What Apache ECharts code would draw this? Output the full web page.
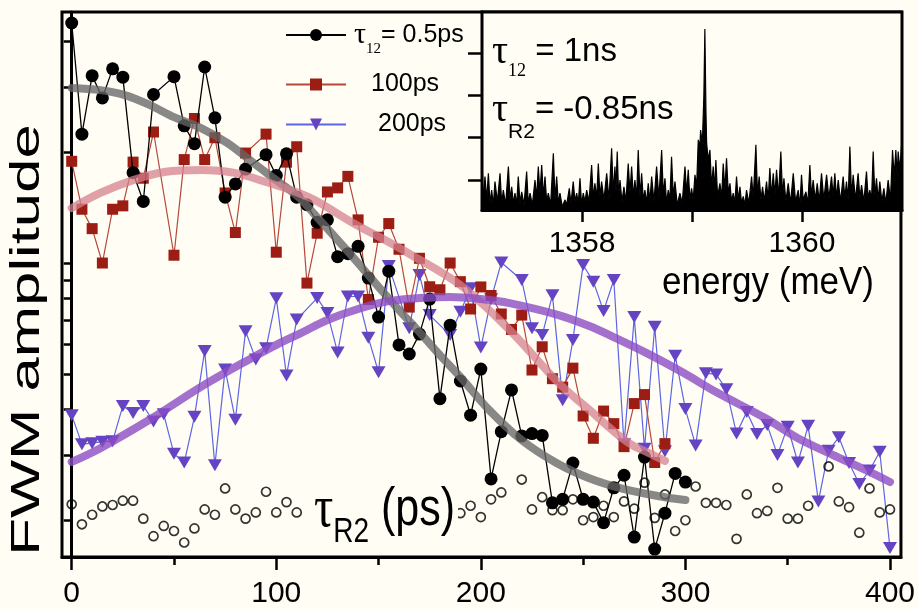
<!DOCTYPE html>
<html><head><meta charset="utf-8">
<script src="https://cdn.jsdelivr.net/npm/echarts@6/dist/echarts.min.js"></script>
<style>html,body{margin:0;padding:0;background:#fffdf4;}#c{width:918px;height:609px;}</style>
</head><body><div id="c"></div>
<script>
// ---- main panel data (x: tau_R2 in ps, y: FWM amplitude, log scale) ----
const blackX = [0,5,10,15,20,25,30,35,40,50,55,60,65,70,75,80,85,95,100,105,110,115,120,125,130,135,140,145,150,155,160,165,170,175,180,185,190,195,200,205,210,215,220,225,230,235,240,245,250,255,260,265,270,275,280,285,290,295,300];
const blackY = [44.9,22.4,32.3,28.1,33.7,32.0,17.6,14.7,28.7,32.1,23.6,21.1,34.1,24.8,15.1,16.4,18.0,19.7,17.3,19.8,15.1,14.4,12.9,13.1,10.4,10.6,11.1,9.1,7.13,9.5,5.99,5.66,6.41,7.98,4.28,6.78,4.78,3.86,5.15,2.59,3.48,4.52,3.39,3.44,3.40,2.23,2.28,2.86,2.28,2.24,1.97,2.45,2.65,1.80,2.97,1.67,2.09,2.68,2.54];

const redX = [0,5,10,15,20,25,30,35,40,50,55,60,65,70,75,80,85,95,100,105,110,115,120,125,130,135,140,145,150,155,160,165,170,175,180,185,190,195,200,205,210,215,220,225,230,235,240,245,250,255,260,265,270,275,280,285,290];
const redY = [18.9,14.0,12.4,10.0,14.0,14.3,18.8,17.0,22.7,10.5,19.1,24.7,19.1,21.9,15.5,12.1,19.9,22.4,10.7,18.8,20.7,8.82,12.05,15.6,16.0,17.2,13.1,7.96,11.75,12.8,10.9,7.59,10.3,8.62,8.46,10.0,8.90,7.50,8.61,8.16,7.27,6.60,7.22,5.12,5.92,4.85,4.60,5.18,3.84,3.34,3.96,3.66,3.17,4.15,4.39,2.87,3.23];

const blueX = [0,5,10,15,20,25,30,35,40,45,50,55,60,65,70,75,80,85,90,95,100,105,110,120,125,130,135,140,145,150,155,165,170,175,185,190,195,200,205,210,220,225,230,235,240,245,250,255,260,265,270,275,280,285,290,295,300,305,310,315,320,325,330,335,340,345,350,355,360,365,370,375,380,385,390,395,400];
const blueY = [3.86,3.22,3.24,3.27,3.28,4.09,3.91,4.09,3.71,3.88,3.03,2.87,3.82,5.77,2.82,5.14,3.75,6.53,5.47,5.87,8.02,4.95,7.02,8.03,7.31,5.71,8.11,8.11,6.27,5.05,9.81,6.65,9.28,7.22,6.37,7.37,8.54,5.89,7.97,10.03,8.99,6.65,6.37,8.18,4.24,6.18,9.88,8.90,7.41,8.99,3.22,7.13,3.13,6.71,3.08,5.60,4.01,3.19,5.02,4.98,4.54,3.44,3.94,3.43,3.63,3.01,3.59,2.87,3.61,2.25,3.09,3.36,2.86,2.51,2.73,3.07,1.68];

const circX = [0,5,10,15,20,25,30,35,40,45,50,55,60,65,70,75,80,85,90,95,100,105,110,120,190,195,200,205,210,220,225,230,235,240,245,250,255,260,265,270,275,280,285,290,295,300,305,310,315,320,325,330,335,340,345,350,355,360,370,375,380,385,390,395,400];
const circY = [2.21,1.95,2.07,2.18,2.20,2.26,2.26,2.02,1.81,1.93,1.87,1.74,1.90,2.14,2.07,2.44,2.14,2.02,2.10,2.39,2.10,2.24,2.10,2.27,2.09,2.19,2.04,2.28,2.38,2.58,2.14,2.31,2.13,2.13,2.28,2.00,2.04,2.19,2.04,2.25,2.15,2.53,2.03,2.35,1.87,2.00,2.47,2.23,2.23,2.20,1.78,2.35,2.09,2.12,2.45,2.02,2.02,2.19,2.80,2.25,2.17,1.85,2.44,2.10,2.14];

// fitted curves
const fitBlackX = [0,14,26,38,50,63,76,87,98,111,119,130,140,150,160,170,180,190,204,220,237,253,270,290,300];
const fitBlackY = [29.9,29.5,28.6,26.9,24.9,23.3,21.2,19.05,17.1,15.1,13.5,11.55,10,8.61,7.45,6.49,5.62,4.90,3.99,3.30,2.86,2.60,2.43,2.31,2.27];
const fitRedX = [0,14,30,46,63,79,95,111,119,139,150,165,190,214,238,253,266,274,282,290];
const fitRedY = [14.1,15.5,16.8,17.7,17.9,17.6,16.6,15.5,14.8,12.7,11.8,10.6,8.71,6.58,4.72,3.99,3.45,3.20,3.05,2.90];
const fitBlueX = [0,14,38,63,87,100,112,125,140,155,170,185,200,214,238,253,266,283,299,315,339,355,372,388,400];
const fitBlueY = [2.88,3.14,3.75,4.60,5.48,5.99,6.45,7.00,7.50,7.88,8.03,8.09,7.98,7.78,7.22,6.74,6.25,5.62,5.03,4.46,3.79,3.34,3.01,2.74,2.54];

const xTickLabels = [0,100,200,300,400];
const xMinorTicks = [50,150,250,350];
const yTicks = [2,3,4,5,6,7,8,9,10,20,30,40];

// ---- inset spectrum (energy in meV) ----
const insetE = [1357.090,1357.102,1357.117,1357.133,1357.148,1357.163,1357.178,1357.193,1357.208,1357.230,1357.254,1357.269,1357.284,1357.305,1357.330,1357.345,1357.360,1357.375,1357.390,1357.405,1357.420,1357.436,1357.451,1357.472,1357.496,1357.511,1357.527,1357.548,1357.572,1357.587,1357.602,1357.617,1357.633,1357.648,1357.663,1357.678,1357.693,1357.714,1357.739,1357.754,1357.769,1357.784,1357.799,1357.820,1357.845,1357.860,1357.884,1357.899,1357.920,1357.936,1357.951,1357.966,1357.981,1357.996,1358.011,1358.027,1358.042,1358.063,1358.087,1358.102,1358.117,1358.133,1358.148,1358.163,1358.178,1358.199,1358.224,1358.245,1358.269,1358.284,1358.299,1358.308,1358.320,1358.333,1358.345,1358.363,1358.381,1358.399,1358.420,1358.436,1358.451,1358.466,1358.481,1358.496,1358.511,1358.527,1358.542,1358.557,1358.572,1358.587,1358.602,1358.617,1358.633,1358.654,1358.678,1358.699,1358.724,1358.739,1358.754,1358.769,1358.784,1358.799,1358.814,1358.830,1358.845,1358.866,1358.890,1358.911,1358.936,1358.951,1358.966,1358.981,1358.996,1359.011,1359.027,1359.042,1359.057,1359.072,1359.078,1359.090,1359.096,1359.108,1359.117,1359.127,1359.133,1359.148,1359.163,1359.178,1359.193,1359.205,1359.217,1359.233,1359.254,1359.269,1359.284,1359.299,1359.314,1359.330,1359.345,1359.360,1359.375,1359.390,1359.405,1359.420,1359.436,1359.451,1359.466,1359.481,1359.496,1359.517,1359.542,1359.557,1359.581,1359.596,1359.611,1359.627,1359.642,1359.657,1359.678,1359.693,1359.708,1359.723,1359.739,1359.754,1359.769,1359.787,1359.808,1359.824,1359.836,1359.854,1359.875,1359.896,1359.921,1359.942,1359.966,1359.981,1359.996,1360.011,1360.036,1360.054,1360.072,1360.087,1360.102,1360.121,1360.139,1360.157,1360.178,1360.199,1360.224,1360.245,1360.269,1360.284,1360.299,1360.314,1360.330,1360.351,1360.375,1360.390,1360.405,1360.420,1360.436,1360.451,1360.466,1360.487,1360.511,1360.527,1360.542,1360.563,1360.587,1360.602,1360.617,1360.633,1360.648,1360.663,1360.678,1360.693,1360.708,1360.727,1360.745,1360.763,1360.784,1360.805,1360.824,1360.839,1360.854,1360.866,1360.875,1360.890,1360.905];
const insetV = [1.55,0.49,1.08,0.53,1.16,0.45,0.76,0.41,0.96,0.49,1.16,0.45,0.76,0.41,1.32,0.53,0.84,0.45,0.69,0.41,1.08,0.45,0.72,0.41,1.20,0.45,0.69,0.41,1.00,0.57,1.32,0.69,1.35,0.61,1.08,0.49,0.69,0.41,1.63,0.53,1.08,0.45,0.69,0.37,0.53,0.41,0.80,0.45,0.96,0.49,0.69,0.45,1.04,0.41,0.69,0.49,0.76,0.49,1.35,0.57,0.92,0.57,1.39,0.61,0.96,0.53,1.16,0.53,1.75,0.69,1.32,0.76,1.67,0.61,1.00,0.49,0.84,0.49,1.39,0.69,1.32,0.61,1.00,0.57,1.71,0.61,1.16,0.53,0.76,0.45,0.92,0.49,1.08,0.49,1.32,0.57,1.71,0.65,1.04,0.45,0.76,0.53,1.55,0.61,0.96,0.41,0.69,0.45,1.32,0.69,1.24,0.53,0.80,0.53,1.12,0.84,1.95,1.79,2.18,1.95,2.02,3.00,4.57,2.60,1.87,1.47,1.71,0.84,1.32,0.76,1.47,0.61,0.92,0.57,1.39,0.76,1.51,0.69,0.92,0.49,0.69,0.45,1.08,0.53,0.84,0.45,0.61,0.41,0.76,0.45,1.08,0.57,1.83,0.65,1.08,0.53,0.84,0.49,0.96,0.53,1.28,0.61,1.16,0.65,1.24,0.61,1.67,0.61,1.04,0.49,0.92,0.45,1.16,0.49,0.76,0.37,1.12,0.53,0.72,0.45,1.35,0.61,1.00,0.53,0.92,0.49,1.16,0.53,1.12,0.57,1.08,0.61,1.16,0.57,1.00,0.49,1.08,0.57,0.96,0.53,1.79,0.61,1.12,0.53,1.16,0.57,0.88,0.49,1.20,0.57,0.76,0.53,1.67,0.61,1.04,0.53,0.96,0.49,0.80,0.45,1.00,0.53,1.71,1.08,1.71,1.08,1.67,1.24,1.79];
const insetTickLabels = [1358,1360];
const insetTicks = [1358,1359,1360];
const insetYTicks = [1,2,3,4];

const SANS = "'Liberation Sans',Arial,sans-serif";
const SERIF = "'Liberation Serif','Times New Roman',serif";
const BG = '#fffdf4';

function pairs(xs, ys) { return xs.map((x, i) => [x, ys[i]]); }

const chart = echarts.init(document.getElementById('c'), null, {renderer: 'canvas'});

function fit(data, color, op) {
  return { type: 'line', xAxisIndex: 0, yAxisIndex: 0, data: data, smooth: 0.35, symbol: 'none', showSymbol: false,
    silent: true, z: 6, lineStyle: { color: color, width: 8, opacity: op, cap: 'round' } };
}

chart.setOption({
  animation: false,
  backgroundColor: BG,
  grid: [
    { left: 62, top: 12, right: 16, bottom: 52, show: true, borderColor: '#000', borderWidth: 3, backgroundColor: BG },
    { left: 482, top: 12, width: 420, height: 198, show: true, borderColor: '#000', borderWidth: 3, backgroundColor: BG, z: 3 }
  ],
  xAxis: [
    { type: 'value', gridIndex: 0, min: -4.74, max: 405.37, position: 'bottom',
      axisLine: { show: true, lineStyle: { color: '#000', width: 3 } },
      axisTick: { show: true, customValues: xTickLabels, length: 13, lineStyle: { color: '#000', width: 2.5 } },
      axisLabel: { show: true, customValues: xTickLabels, color: '#000', fontFamily: SANS, fontSize: 30, margin: 22 },
      splitLine: { show: false } },
    { type: 'value', gridIndex: 0, min: -4.74, max: 405.37, position: 'bottom',
      axisLine: { show: false },
      axisTick: { show: true, customValues: xMinorTicks, length: 8, lineStyle: { color: '#000', width: 2.5 } },
      axisLabel: { show: false }, splitLine: { show: false } },
    { type: 'value', gridIndex: 1, min: 1357.09, max: 1360.91, position: 'bottom',
      axisLine: { show: true, lineStyle: { color: '#000', width: 3 } },
      axisTick: { show: true, customValues: insetTicks, length: 12, lineStyle: { color: '#000', width: 2.5 } },
      axisLabel: { show: true, customValues: insetTickLabels, color: '#000', fontFamily: SANS, fontSize: 30, margin: 19,
        formatter: v => String(v) },
      splitLine: { show: false } }
  ],
  yAxis: [
    { type: 'log', logBase: 10, gridIndex: 0, min: 1.589, max: 48.1,
      axisLine: { show: true, lineStyle: { color: '#000', width: 3 } },
      axisTick: { show: true, customValues: yTicks, length: 8, lineStyle: { color: '#000', width: 2.5 } },
      axisLabel: { show: false }, splitLine: { show: false }, minorTick: { show: false } },
    { type: 'value', gridIndex: 1, min: 0.29, max: 4.97,
      axisLine: { show: true, lineStyle: { color: '#000', width: 3 } },
      axisTick: { show: true, customValues: insetYTicks, length: 14, lineStyle: { color: '#000', width: 2.5 } },
      axisLabel: { show: false }, splitLine: { show: false } }
  ],
  legend: [
    { data: ['τ12= 0.5ps'], left: 285, top: 20, padding: 0, itemWidth: 60, itemHeight: 15, selectedMode: false,
      formatter: () => '{t|τ}{s|12}{n|= 0.5ps}',
      textStyle: { color: '#000', rich: {
        t: { fontFamily: SERIF, fontSize: 30, lineHeight: 44, padding: [0, 0, 0, 3], color: '#000' },
        s: { fontFamily: SERIF, fontSize: 15, verticalAlign: 'bottom', color: '#000' },
        n: { fontFamily: SANS, fontSize: 25, lineHeight: 44, color: '#000' } } } },
    { data: ['100ps'], left: 285, top: 72, padding: 0, itemWidth: 60, itemHeight: 15, selectedMode: false,
      formatter: () => '{n|100ps}',
      textStyle: { color: '#000', rich: { n: { fontFamily: SANS, fontSize: 25, lineHeight: 30, padding: [0, 0, 0, 20], color: '#000' } } } },
    { data: ['200ps'], left: 285, top: 112, padding: 0, itemWidth: 60, itemHeight: 15, selectedMode: false,
      formatter: () => '{n|200ps}',
      textStyle: { color: '#000', rich: { n: { fontFamily: SANS, fontSize: 25, lineHeight: 30, padding: [0, 0, 0, 27], color: '#000' } } } }
  ],
  graphic: [
    { type: 'text', x: 28, y: 340, rotation: Math.PI / 2, scaleX: 1.54, z: 20,
      style: { text: 'FWM amplitude', fontSize: 40, fontFamily: SANS, fill: '#000', align: 'center', verticalAlign: 'middle', textAlign: 'center', textVerticalAlign: 'middle' } },
    { type: 'text', x: 311, y: 510, scaleY: 1.25, z: 50,
      style: { text: '{t|τ}{s|R2}{p| (ps)}', fill: '#000', align: 'left', verticalAlign: 'middle', textAlign: 'left', textVerticalAlign: 'middle',
        backgroundColor: BG, padding: [0, 3, 0, 3],
        rich: { t: { fontFamily: SERIF, fontSize: 48, lineHeight: 64, fill: '#000' },
                s: { fontFamily: SANS, fontSize: 28, verticalAlign: 'bottom', fill: '#000' },
                p: { fontFamily: SANS, fontSize: 43, lineHeight: 64, fill: '#000' } } } },
    { type: 'text', x: 662, y: 283, scaleY: 1.1, z: 20,
      style: { text: 'energy (meV)', fontSize: 35, fontFamily: SANS, fill: '#000', align: 'left', verticalAlign: 'middle', textAlign: 'left', textVerticalAlign: 'middle' } },
    { type: 'text', x: 492, y: 52, z: 20,
      style: { text: '{t|τ}{s|12}{n| = 1ns}', fill: '#000', align: 'left', verticalAlign: 'middle', textAlign: 'left', textVerticalAlign: 'middle',
        rich: { t: { fontFamily: SERIF, fontSize: 40, lineHeight: 56, fill: '#000' },
                s: { fontFamily: SERIF, fontSize: 18, verticalAlign: 'bottom', fill: '#000' },
                n: { fontFamily: SANS, fontSize: 33, lineHeight: 56, fill: '#000' } } } },
    { type: 'text', x: 492, y: 110, z: 20,
      style: { text: '{t|τ}{s|R2}{n|= -0.85ns}', fill: '#000', align: 'left', verticalAlign: 'middle', textAlign: 'left', textVerticalAlign: 'middle',
        rich: { t: { fontFamily: SERIF, fontSize: 40, lineHeight: 66, fill: '#000' },
                s: { fontFamily: SANS, fontSize: 21, verticalAlign: 'bottom', fill: '#000' },
                n: { fontFamily: SANS, fontSize: 33, lineHeight: 66, fill: '#000' } } } }
  ],
  series: [
    { name: 'open', type: 'scatter', xAxisIndex: 0, yAxisIndex: 0, data: pairs(circX, circY), symbol: 'circle', symbolSize: 9, z: 3,
      itemStyle: { color: 'rgba(0,0,0,0)', borderColor: '#000', borderWidth: 1.7 } },
    { name: '200ps', type: 'line', xAxisIndex: 0, yAxisIndex: 0, data: pairs(blueX, blueY), symbol: 'triangle', symbolRotate: 180, symbolSize: [14, 12], z: 3,
      itemStyle: { color: '#6544c4' }, lineStyle: { color: '#5b66e6', width: 1.2 } },
    { name: '100ps', type: 'line', xAxisIndex: 0, yAxisIndex: 0, data: pairs(redX, redY), symbol: 'rect', symbolSize: 11, z: 4,
      itemStyle: { color: '#9b1d13' }, lineStyle: { color: '#b5473b', width: 1.2 } },
    { name: 'τ12= 0.5ps', type: 'line', xAxisIndex: 0, yAxisIndex: 0, data: pairs(blackX, blackY), symbol: 'circle', symbolSize: 13, z: 5,
      itemStyle: { color: '#000' }, lineStyle: { color: '#000', width: 1.3 } },
    fit(pairs(fitBlackX, fitBlackY), '#666766', 0.78),
    fit(pairs(fitRedX, fitRedY), '#d4808f', 0.75),
    fit(pairs(fitBlueX, fitBlueY), '#8c4cc4', 0.8),
    { name: 'spectrum', type: 'line', xAxisIndex: 2, yAxisIndex: 1, data: pairs(insetE, insetV), symbol: 'none', showSymbol: false, z: 4,
      lineStyle: { color: '#000', width: 1.2 }, areaStyle: { color: '#000', opacity: 1, origin: 'start' } }
  ]
});
</script>
</body></html>
